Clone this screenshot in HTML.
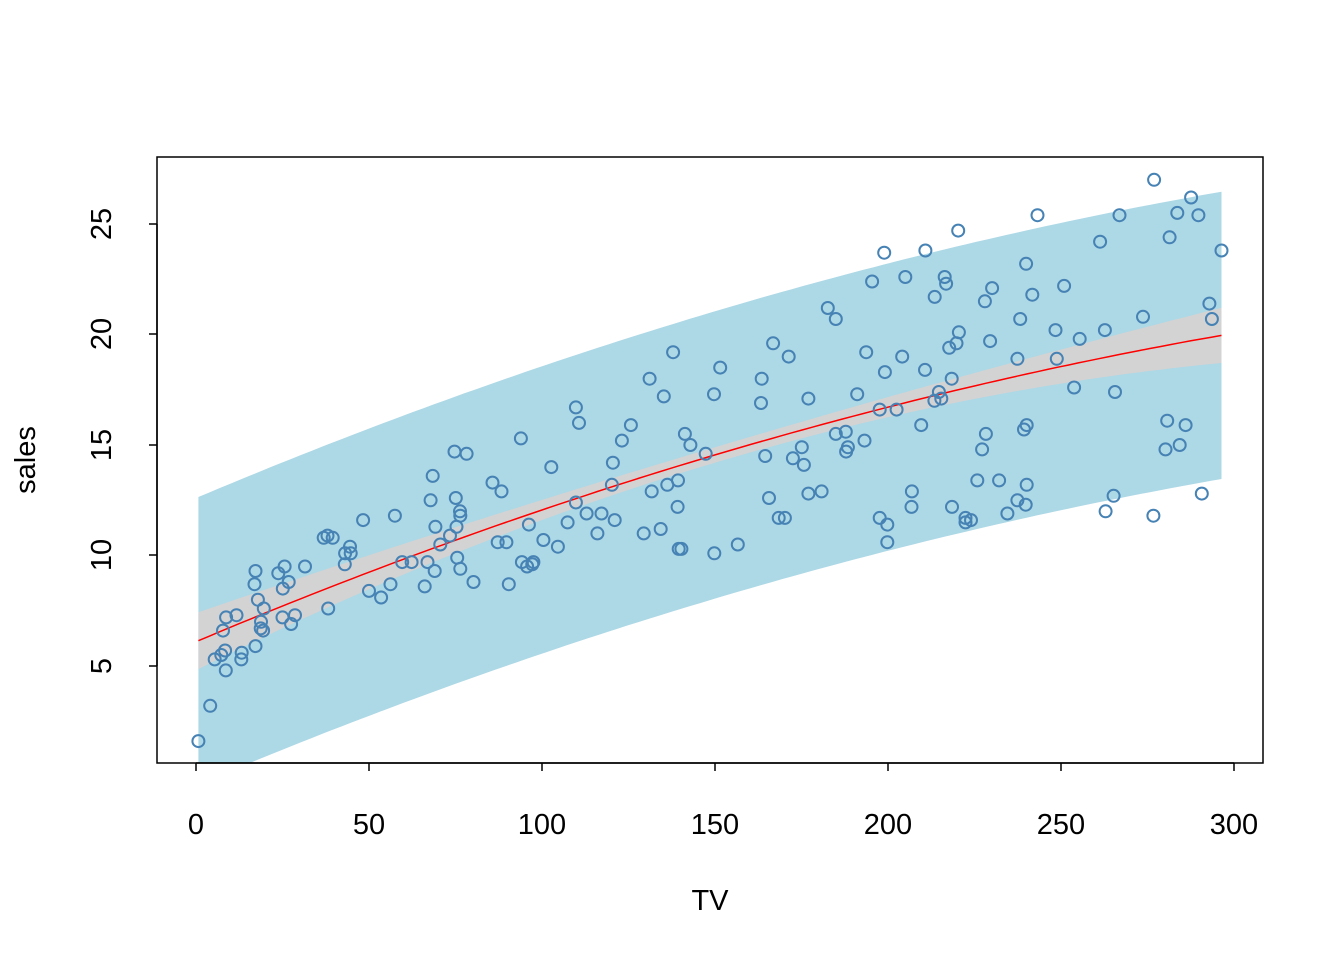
<!DOCTYPE html>
<html><head><meta charset="utf-8"><style>
html,body{margin:0;padding:0;background:#fff;}
svg{display:block;font-family:"Liberation Sans",Arial,sans-serif;}
</style></head><body>
<svg id="s" width="1344" height="960" xmlns="http://www.w3.org/2000/svg">
<defs><clipPath id="c"><rect x="157" y="157" width="1106" height="606"/></clipPath></defs>
<g id="bands" clip-path="url(#c)"></g>
<g id="pts" fill="none" stroke="#4682b4" stroke-width="2"></g>
<rect x="157" y="157" width="1106" height="606" fill="none" stroke="#000" stroke-width="1.5"/>
<g stroke="#000" stroke-width="1.5">
<line x1="196" y1="763" x2="1234" y2="763"/>
<line x1="196" y1="763" x2="196" y2="771"/><line x1="369" y1="763" x2="369" y2="771"/><line x1="542" y1="763" x2="542" y2="771"/><line x1="715" y1="763" x2="715" y2="771"/><line x1="888" y1="763" x2="888" y2="771"/><line x1="1061" y1="763" x2="1061" y2="771"/><line x1="1234" y1="763" x2="1234" y2="771"/>
<line x1="157" y1="666" x2="157" y2="224"/>
<line x1="149" y1="666" x2="157" y2="666"/><line x1="149" y1="555" x2="157" y2="555"/><line x1="149" y1="445" x2="157" y2="445"/><line x1="149" y1="334" x2="157" y2="334"/><line x1="149" y1="224" x2="157" y2="224"/>
</g>
<g font-size="29" text-anchor="middle" fill="#000">
<text x="196" y="834">0</text><text x="369" y="834">50</text><text x="542" y="834">100</text><text x="715" y="834">150</text><text x="888" y="834">200</text><text x="1061" y="834">250</text><text x="1234" y="834">300</text>
<text transform="translate(111,666) rotate(-90)">5</text>
<text transform="translate(111,555) rotate(-90)">10</text>
<text transform="translate(111,445) rotate(-90)">15</text>
<text transform="translate(111,334) rotate(-90)">20</text>
<text transform="translate(111,224) rotate(-90)">25</text>
<text x="710" y="910">TV</text>
<text transform="translate(35,460) rotate(-90)">sales</text>
</g>
</svg>
<script>
var d=[230.1,22.1,44.5,10.4,17.2,9.3,151.5,18.5,180.8,12.9,8.7,7.2,57.5,11.8,120.2,13.2,8.6,4.8,199.8,10.6,66.1,8.6,214.7,17.4,23.8,9.2,97.5,9.7,204.1,19,195.4,22.4,67.8,12.5,281.4,24.4,69.2,11.3,147.3,14.6,218.4,18,237.4,12.5,13.2,5.6,228.3,15.5,62.3,9.7,262.9,12,142.9,15,240.1,15.9,248.8,18.9,70.6,10.5,292.9,21.4,112.9,11.9,97.2,9.6,265.6,17.4,95.7,9.5,290.7,12.8,266.9,25.4,74.7,14.7,43.1,10.1,228,21.5,202.5,16.6,177,17.1,293.6,20.7,206.9,12.9,25.1,8.5,175.1,14.9,89.7,10.6,239.9,23.2,227.2,14.8,66.9,9.7,199.8,11.4,100.4,10.7,216.4,22.6,182.6,21.2,262.7,20.2,198.9,23.7,7.3,5.5,136.2,13.2,210.8,23.8,210.7,18.4,53.5,8.1,261.3,24.2,239.3,15.7,102.7,14,131.1,18,69,9.3,31.5,9.5,139.3,13.4,237.4,18.9,216.8,22.3,199.1,18.3,109.8,12.4,26.8,8.8,129.4,11,213.4,17,16.9,8.7,27.5,6.9,120.5,14.2,5.4,5.3,116,11,76.4,11.8,239.8,12.3,75.3,11.3,68.4,13.6,213.5,21.7,193.2,15.2,76.3,12,110.7,16,88.3,12.9,109.8,16.7,134.3,11.2,28.6,7.3,217.7,19.4,250.9,22.2,107.4,11.5,163.3,16.9,197.6,11.7,184.9,15.5,289.7,25.4,135.2,17.2,222.4,11.7,296.4,23.8,280.2,14.8,187.9,14.7,238.2,20.7,137.9,19.2,25,7.2,90.4,8.7,13.1,5.3,255.4,19.8,225.8,13.4,241.7,21.8,175.7,14.1,209.6,15.9,78.2,14.6,75.1,12.6,139.2,12.2,76.4,9.4,125.7,15.9,19.4,6.6,141.3,15.5,18.8,7,224,11.6,123.1,15.2,229.5,19.7,87.2,10.6,7.8,6.6,80.2,8.8,220.3,24.7,59.6,9.7,0.7,1.6,265.2,12.7,8.4,5.7,219.8,19.6,36.9,10.8,48.3,11.6,25.6,9.5,273.7,20.8,43,9.6,184.9,20.7,73.4,10.9,193.7,19.2,220.5,20.1,104.6,10.4,96.2,11.4,140.3,10.3,240.1,13.2,243.2,25.4,38,10.9,44.7,10.1,280.7,16.1,121,11.6,197.6,16.6,171.3,19,187.8,15.6,4.1,3.2,93.9,15.3,149.8,10.1,11.7,7.3,131.7,12.9,172.5,14.4,85.7,13.3,188.4,14.9,163.5,18,117.2,11.9,234.5,11.9,17.9,8,206.8,12.2,215.4,17.1,284.3,15,50,8.4,164.5,14.5,19.6,7.6,168.4,11.7,222.4,11.5,276.9,27,248.4,20.2,170.2,11.7,276.7,11.8,165.6,12.6,156.6,10.5,218.5,12.2,56.2,8.7,287.6,26.2,253.8,17.6,205,22.6,139.5,10.3,191.1,17.3,286,15.9,18.7,6.7,39.5,10.8,75.5,9.9,17.2,5.9,166.8,19.6,149.7,17.3,38.2,7.6,94.2,9.7,177,12.8,283.6,25.5,232.1,13.4];
function X(x){return 196+x*1038/300;}
function Y(y){return 666-(y-5)*22.1;}
function m(x){return 6.1+0.06614*x-6.537e-5*x*x;}
function g(x){return 0.35+4.2e-5*(x-150)*(x-150);}
var NS="http://www.w3.org/2000/svg";
function band(lo,hi,col){var up=[],dn=[];for(var x=0.7;x<=296.41;x+=2.957){up.push(X(x).toFixed(1)+","+Y(hi(x)).toFixed(1));dn.unshift(X(x).toFixed(1)+","+Y(lo(x)).toFixed(1));}
var p=document.createElementNS(NS,"polygon");p.setAttribute("points",up.concat(dn).join(" "));p.setAttribute("fill",col);document.getElementById("bands").appendChild(p);}
band(function(x){return m(x)-6.5},function(x){return m(x)+6.5},"#add8e6");
band(function(x){return m(x)-g(x)},function(x){return m(x)+g(x)},"#d3d3d3");
var pl=[];for(var x=0.7;x<=296.41;x+=2.957)pl.push(X(x).toFixed(1)+","+Y(m(x)).toFixed(1));
var l=document.createElementNS(NS,"polyline");l.setAttribute("points",pl.join(" "));l.setAttribute("fill","none");l.setAttribute("stroke","#ff0000");l.setAttribute("stroke-width","1.5");document.getElementById("bands").appendChild(l);
var G=document.getElementById("pts");
for(var i=0;i<d.length;i+=2){var c=document.createElementNS(NS,"circle");c.setAttribute("cx",X(d[i]).toFixed(1));c.setAttribute("cy",Y(d[i+1]).toFixed(1));c.setAttribute("r","6");G.appendChild(c);}
</script>
</body></html>
